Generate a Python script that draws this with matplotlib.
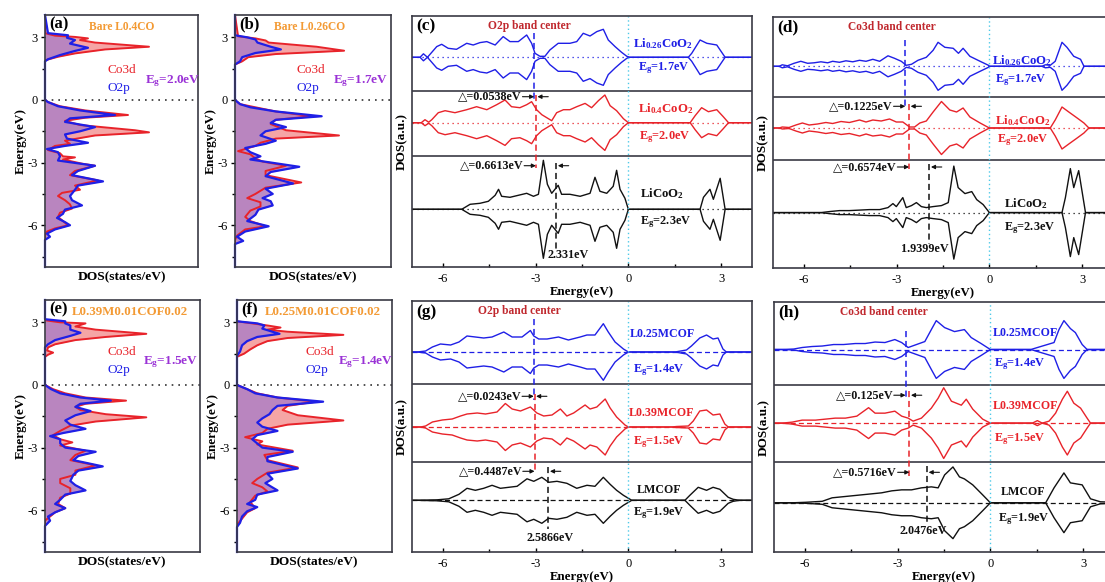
import numpy as np
import matplotlib
matplotlib.use("Agg")
import matplotlib.pyplot as plt
from matplotlib.ticker import MultipleLocator, NullLocator

plt.rcParams["font.family"] = ["Liberation Serif", "DejaVu Sans"]
plt.rcParams["mathtext.default"] = "regular"
plt.rcParams["axes.unicode_minus"] = False

BLUE = "#1f1fe6"
RED = "#e8232a"
BLACK = "#111111"
ORANGE = "#f39a34"
PURPLE = "#9a32d6"
DARKRED = "#c0282e"
CYAN = "#4cc9e8"
PINK = "#f5a5a5"
MAUVE = "#b483c2"
FRAME = "#3a3a44"

# ---- PDOS panels (a, b, e, f): (energy eV, DOS) ----
a_co3d = [(4.07, 0), (3.2, 0), (3.08, 1.0), (3.02, 3.0), (2.95, 4.3), (2.87, 3.5), (2.75, 5.0),
          (2.55, 10.4), (2.42, 6.0), (2.23, 3.0), (2.07, 1.3), (1.9, 0), (0.0, 0), (-0.1, 0.3),
          (-0.3, 1.5), (-0.5, 4.0), (-0.72, 8.3), (-0.85, 4.0), (-1.0, 2.0), (-1.2, 3.5),
          (-1.45, 9.0), (-1.55, 10.4), (-1.7, 5.0), (-1.95, 2.0), (-2.1, 2.5), (-2.2, 1.0),
          (-2.4, 0.3), (-2.55, 1.5), (-2.7, 1.8), (-2.75, 3.0), (-2.85, 1.8), (-3.05, 3.7),
          (-3.15, 5.0), (-3.4, 3.0), (-3.6, 2.5), (-3.85, 5.3), (-4.1, 3.0), (-4.3, 3.5),
          (-4.45, 1.7), (-4.6, 1.3), (-4.8, 2.0), (-5.0, 2.5), (-5.2, 2.7), (-5.4, 1.5),
          (-5.6, 1.3), (-5.8, 1.8), (-6.0, 2.3), (-6.15, 1.0), (-6.3, 0.2), (-6.5, 0), (-8.0, 0)]
a_o2p = [(4.07, 0), (3.2, 0.3), (3.1, 2.3), (2.98, 2.2), (2.87, 3.0), (2.7, 2.5), (2.5, 4.3),
         (2.35, 3.0), (2.15, 1.5), (1.95, 0.3), (1.85, 0), (0.0, 0), (-0.1, 0.3), (-0.3, 1.3),
         (-0.5, 3.5), (-0.72, 7.0), (-0.88, 2.5), (-1.05, 2.0), (-1.3, 5.0), (-1.5, 3.5),
         (-1.65, 2.0), (-1.85, 2.2), (-2.05, 4.3), (-2.2, 2.0), (-2.35, 0.2), (-2.5, 1.3),
         (-2.7, 1.5), (-2.9, 1.3), (-3.15, 5.0), (-3.4, 3.3), (-3.6, 2.7), (-3.9, 5.8),
         (-4.1, 3.3), (-4.3, 3.0), (-4.6, 2.5), (-4.8, 2.7), (-5.05, 3.7), (-5.25, 2.0),
         (-5.45, 1.8), (-5.65, 1.2), (-5.85, 2.0), (-6.0, 2.5), (-6.2, 1.0), (-6.4, 0.2),
         (-6.55, 0.5), (-6.7, 0), (-8.0, 0)]
b_co3d = [(4.07, 0), (3.05, 0.3), (2.95, 2.0), (2.85, 3.0), (2.75, 3.3), (2.55, 8.0), (2.36, 10.7),
          (2.2, 4.0), (2.05, 1.3), (1.85, 0.7), (1.7, 0), (0.0, 0), (-0.2, 0.5), (-0.35, 2.0),
          (-0.55, 4.0), (-0.78, 7.5), (-0.95, 4.0), (-1.15, 3.5), (-1.45, 5.0), (-1.7, 10.2),
          (-1.85, 4.0), (-2.05, 2.5), (-2.2, 2.0), (-2.45, 0.3), (-2.6, 1.5), (-2.8, 2.0),
          (-2.95, 2.7), (-3.15, 5.0), (-3.4, 3.0), (-3.6, 3.0), (-3.95, 6.5), (-4.2, 3.0),
          (-4.5, 2.0), (-4.7, 1.2), (-4.9, 2.5), (-5.1, 2.5), (-5.3, 1.5), (-5.6, 1.0),
          (-5.8, 1.5), (-6.05, 3.0), (-6.2, 1.0), (-6.5, 0.2), (-6.7, 0), (-8.0, 0)]
b_o2p = [(4.07, 0), (3.1, 0), (3.0, 1.2), (2.9, 2.0), (2.75, 2.2), (2.55, 3.5), (2.42, 4.5),
         (2.25, 2.0), (2.05, 0.7), (1.85, 0.5), (1.7, 0), (0.0, 0), (-0.2, 0.5), (-0.35, 1.5),
         (-0.55, 4.0), (-0.78, 8.5), (-0.95, 4.0), (-1.1, 3.5), (-1.3, 5.0), (-1.5, 3.0),
         (-1.7, 2.5), (-1.95, 4.0), (-2.1, 3.0), (-2.3, 1.0), (-2.5, 1.5), (-2.7, 2.5),
         (-2.85, 1.5), (-3.2, 6.3), (-3.45, 3.5), (-3.65, 3.0), (-4.0, 5.7), (-4.25, 3.0),
         (-4.5, 3.7), (-4.7, 2.7), (-4.85, 3.5), (-5.05, 3.7), (-5.25, 2.3), (-5.5, 2.0),
         (-5.8, 1.2), (-6.05, 3.3), (-6.3, 1.0), (-6.55, 0.2), (-6.75, 0.8), (-6.9, 0), (-8.0, 0)]
e_co3d = [(4.07, 0), (3.1, 0), (3.0, 1.5), (2.95, 4.0), (2.8, 3.0), (2.65, 5.0), (2.45, 10.0),
          (2.3, 6.0), (2.15, 3.0), (1.95, 1.0), (1.8, 0.3), (1.65, 0.2), (1.55, 0.8), (1.45, 0.3),
          (1.35, 0), (0.0, 0), (-0.2, 0.8), (-0.4, 2.0), (-0.6, 4.0), (-0.75, 8.0), (-0.9, 4.0),
          (-1.05, 3.0), (-1.2, 3.5), (-1.4, 6.0), (-1.55, 10.0), (-1.75, 5.0), (-1.95, 2.5),
          (-2.2, 1.5), (-2.4, 0.8), (-2.6, 1.5), (-2.75, 2.7), (-2.9, 1.5), (-3.15, 4.0),
          (-3.35, 3.0), (-3.6, 2.5), (-3.85, 5.0), (-4.1, 3.0), (-4.3, 3.0), (-4.5, 1.5),
          (-4.7, 1.5), (-4.95, 2.5), (-5.2, 2.5), (-5.4, 1.5), (-5.7, 1.3), (-5.9, 2.0),
          (-6.1, 1.0), (-6.3, 0.5), (-6.5, 0), (-8.0, 0)]
e_o2p = [(4.07, 0), (3.15, 0), (3.05, 2.0), (2.95, 2.0), (2.85, 2.5), (2.65, 2.5), (2.5, 3.5),
         (2.35, 2.5), (2.15, 1.0), (1.95, 0.3), (1.8, 0), (0.0, 0), (-0.2, 0.6), (-0.4, 1.5),
         (-0.6, 3.5), (-0.75, 6.5), (-0.9, 3.5), (-1.05, 3.0), (-1.25, 4.5), (-1.45, 3.0),
         (-1.7, 2.0), (-1.9, 2.5), (-2.1, 4.0), (-2.3, 1.8), (-2.45, 0.5), (-2.6, 1.5),
         (-2.8, 1.5), (-3.0, 2.0), (-3.2, 5.0), (-3.4, 3.3), (-3.6, 2.8), (-3.9, 5.7),
         (-4.1, 3.3), (-4.3, 2.8), (-4.6, 2.5), (-4.8, 3.0), (-5.05, 4.0), (-5.25, 2.0),
         (-5.5, 1.5), (-5.7, 1.0), (-5.9, 2.0), (-6.1, 1.0), (-6.3, 0.3), (-6.5, 0.5),
         (-6.75, 0), (-8.0, 0)]
f_co3d = [(4.07, 0), (3.05, 0), (2.95, 1.5), (2.85, 3.0), (2.75, 4.3), (2.65, 3.0), (2.55, 5.0),
          (2.4, 10.5), (2.25, 5.0), (2.1, 3.0), (1.9, 2.0), (1.7, 1.3), (1.5, 0.7), (1.35, 0),
          (0.0, 0), (-0.2, 1.0), (-0.4, 2.0), (-0.6, 4.0), (-0.8, 7.8), (-1.0, 5.0), (-1.2, 4.5),
          (-1.45, 6.0), (-1.7, 10.5), (-1.9, 5.0), (-2.1, 3.0), (-2.3, 2.5), (-2.5, 0.8),
          (-2.7, 2.5), (-2.85, 2.0), (-3.15, 5.5), (-3.35, 2.7), (-3.6, 3.0), (-3.95, 6.0),
          (-4.2, 3.0), (-4.5, 2.0), (-4.7, 1.5), (-4.9, 2.5), (-5.1, 3.0), (-5.3, 1.8),
          (-5.6, 1.3), (-5.9, 1.8), (-6.1, 1.0), (-6.4, 0.5), (-6.7, 0), (-8.0, 0)]
f_o2p = [(4.07, 0), (3.05, 0), (2.95, 2.0), (2.85, 2.7), (2.7, 2.5), (2.55, 3.5), (2.45, 4.2),
         (2.3, 2.0), (2.1, 1.0), (1.9, 0.5), (1.6, 0.3), (1.4, 0), (0.0, 0), (-0.2, 1.0),
         (-0.4, 1.8), (-0.6, 4.0), (-0.8, 8.5), (-1.0, 4.0), (-1.2, 3.5), (-1.4, 3.2),
         (-1.6, 2.5), (-1.8, 2.0), (-2.0, 2.5), (-2.2, 4.0), (-2.4, 2.0), (-2.6, 1.5),
         (-2.8, 2.0), (-3.0, 2.5), (-3.2, 5.5), (-3.45, 3.0), (-3.65, 3.0), (-4.0, 6.0),
         (-4.25, 3.0), (-4.5, 3.5), (-4.7, 2.8), (-4.85, 3.3), (-5.05, 4.0), (-5.25, 2.0),
         (-5.5, 1.8), (-5.7, 1.0), (-5.85, 2.0), (-6.05, 1.0), (-6.3, 0.5), (-6.6, 0.3),
         (-6.8, 0), (-8.0, 0)]

# ---- stacked spin DOS panels (c, d, g, h): (energy eV, DOS a.u.) ----
c_li026 = [(-6.74, 0), (-6.63, 0.35), (-6.5, 0), (-6.36, 0.5), (-6.2, 1.07), (-6.04, 1.3),
           (-5.83, 0.9), (-5.56, 0.8), (-5.23, 1.4), (-5.02, 1.23), (-4.8, 1.47), (-4.58, 1.57),
           (-4.31, 1.23), (-4.05, 2.07), (-3.83, 1.57), (-3.56, 1.57), (-3.29, 2.23), (-3.13, 1.4),
           (-3.02, 0.4), (-2.86, 0.1), (-2.7, 0.1), (-2.54, 0.73), (-2.27, 1.4), (-1.89, 1.4),
           (-1.67, 1.57), (-1.46, 2.4), (-1.24, 2.13), (-1.02, 2.57), (-0.81, 2.8), (-0.65, 1.73),
           (-0.43, 1.07), (-0.22, 0.5), (-0.05, 0.1), (0.05, 0), (1.94, 0), (2.05, 0.4),
           (2.32, 1.73), (2.54, 1.4), (2.86, 1.23), (3.02, 0.5), (3.13, 0)]
c_li04 = [(-6.7, 0), (-6.58, 0.3), (-6.46, 0.05), (-6.36, 0.3), (-6.15, 1.0), (-5.93, 1.2),
          (-5.61, 1.0), (-5.23, 1.3), (-4.91, 1.6), (-4.58, 1.3), (-4.26, 1.8), (-3.99, 2.27),
          (-3.78, 1.6), (-3.51, 1.5), (-3.29, 1.8), (-3.13, 2.1), (-2.97, 1.3), (-2.8, 0.8),
          (-2.64, 0.5), (-2.48, 0.2), (-2.32, 1.0), (-2.1, 1.3), (-1.89, 1.3), (-1.67, 1.6),
          (-1.4, 1.93), (-1.19, 1.5), (-0.97, 2.2), (-0.76, 2.77), (-0.59, 1.7), (-0.38, 1.2),
          (-0.16, 0.4), (0.0, 0), (2.0, 0), (2.16, 0.7), (2.37, 1.5), (2.59, 1.1), (2.86, 1.3),
          (3.07, 0.6), (3.24, 0)]
c_lico = [(-5.39, 0), (-5.12, 0.5), (-4.8, 0.6), (-4.53, 0.8), (-4.31, 1.4), (-4.2, 2.0),
          (-4.1, 1.3), (-3.83, 1.2), (-3.56, 1.4), (-3.29, 1.6), (-3.07, 1.3), (-2.91, 1.5),
          (-2.75, 4.9), (-2.62, 2.5), (-2.48, 1.6), (-2.27, 2.4), (-2.16, 1.5), (-1.89, 1.5),
          (-1.56, 1.3), (-1.24, 1.6), (-1.08, 3.2), (-0.92, 1.8), (-0.7, 1.6), (-0.49, 2.3),
          (-0.38, 3.9), (-0.27, 2.0), (-0.11, 1.1), (0.0, 0), (2.32, 0), (2.43, 1.2),
          (2.64, 2.0), (2.75, 1.0), (2.97, 3.1), (3.13, 0)]
d_li026 = [(-6.8, 0), (-6.7, 0.15), (-6.53, 0.05), (-6.32, 0.3), (-6.1, 0.5), (-5.88, 0.3),
           (-5.67, 0.35), (-5.45, 0.45), (-5.23, 0.35), (-5.07, 0.5), (-4.85, 0.4), (-4.64, 0.55),
           (-4.42, 0.45), (-4.2, 0.6), (-3.99, 0.5), (-3.77, 0.7), (-3.55, 0.5), (-3.28, 1.05),
           (-3.07, 0.8), (-2.85, 0.5), (-2.69, 0.1), (-2.52, 0.2), (-2.31, 0.6), (-2.04, 0.9),
           (-1.82, 1.6), (-1.66, 2.4), (-1.44, 1.9), (-1.17, 1.8), (-1.0, 1.3), (-0.85, 1.8),
           (-0.63, 1.0), (-0.3, 0.5), (-0.03, 0.1), (0.0, 0), (1.7, 0), (1.81, 0.15),
           (1.97, 0.1), (2.13, 0.5), (2.35, 2.4), (2.51, 1.9), (2.73, 1.0), (2.95, 0.7), (3.06, 0)]
d_li04 = [(-6.8, 0), (-6.7, 0.1), (-6.48, 0.05), (-6.26, 0.3), (-6.05, 0.5), (-5.83, 0.3),
          (-5.56, 0.4), (-5.29, 0.55), (-5.07, 0.45), (-4.8, 0.65), (-4.53, 0.55), (-4.2, 0.8),
          (-3.99, 0.6), (-3.77, 0.8), (-3.5, 0.7), (-3.23, 0.9), (-3.01, 0.6), (-2.8, 0.6),
          (-2.58, 0.1), (-2.42, 0.1), (-2.25, 0.5), (-2.04, 0.7), (-1.82, 1.6), (-1.55, 2.65),
          (-1.28, 1.8), (-1.06, 1.6), (-0.85, 2.0), (-0.63, 1.1), (-0.3, 0.5), (0.0, 0),
          (1.97, 0), (2.13, 0.8), (2.35, 2.1), (2.57, 1.6), (2.84, 1.0), (3.06, 0.5), (3.22, 0)]
d_lico = [(-5.45, 0), (-5.18, 0.1), (-4.85, 0.2), (-4.53, 0.2), (-4.2, 0.25), (-3.88, 0.3),
          (-3.55, 0.3), (-3.28, 0.5), (-3.12, 0.9), (-3.01, 0.6), (-2.8, 1.5), (-2.69, 0.5),
          (-2.52, 0.7), (-2.36, 1.0), (-2.2, 0.6), (-2.04, 0.5), (-1.82, 0.6), (-1.55, 0.7),
          (-1.33, 1.0), (-1.15, 4.65), (-1.01, 2.5), (-0.79, 1.9), (-0.57, 2.1), (-0.41, 1.3),
          (-0.2, 0.8), (0.0, 0), (2.35, 0), (2.46, 1.5), (2.62, 4.4), (2.73, 2.5), (2.89, 4.2),
          (3.11, 0)]
g_l025 = [(-6.83, 0), (-6.56, 0.1), (-6.34, 0.5), (-6.08, 0.8), (-5.75, 0.7), (-5.48, 1.0),
          (-5.22, 1.6), (-4.95, 1.5), (-4.68, 1.4), (-4.41, 1.5), (-4.03, 2.0), (-3.76, 1.5),
          (-3.44, 1.5), (-3.17, 2.15), (-3.06, 1.6), (-2.9, 1.3), (-2.63, 1.3), (-2.26, 1.5),
          (-1.94, 1.2), (-1.56, 1.5), (-1.34, 1.7), (-1.08, 1.7), (-0.81, 2.83), (-0.65, 2.0),
          (-0.43, 1.0), (-0.16, 0.3), (0.0, 0), (1.51, 0), (1.88, 0.2), (2.04, 0.6), (2.31, 1.4),
          (2.53, 1.7), (2.74, 1.3), (2.9, 1.4), (3.06, 0.3), (3.17, 0)]
g_l039 = [(-6.72, 0), (-6.56, 0.1), (-6.34, 0.5), (-6.02, 0.7), (-5.7, 0.8), (-5.43, 1.1),
          (-5.22, 1.3), (-4.89, 1.4), (-4.62, 1.3), (-4.25, 1.5), (-3.98, 2.35), (-3.76, 1.8),
          (-3.49, 1.6), (-3.17, 2.0), (-2.96, 1.4), (-2.74, 1.1), (-2.47, 1.2), (-2.2, 1.8),
          (-1.99, 1.1), (-1.77, 1.4), (-1.4, 2.2), (-1.24, 1.8), (-1.02, 2.0), (-0.75, 2.8),
          (-0.59, 1.9), (-0.38, 1.0), (-0.11, 0.2), (0.0, 0), (1.4, 0), (1.56, 0.05),
          (1.94, 0.1), (2.1, 0.6), (2.31, 1.6), (2.53, 1.7), (2.74, 1.2), (2.96, 1.3),
          (3.12, 0.3), (3.23, 0)]
g_lmcof = [(-6.83, 0), (-6.18, 0.05), (-5.81, 0.15), (-5.48, 0.6), (-5.22, 1.2), (-4.95, 1.0),
           (-4.68, 1.2), (-4.41, 1.5), (-4.14, 1.2), (-3.87, 1.3), (-3.6, 1.4), (-3.28, 2.15),
           (-3.06, 1.9), (-2.8, 2.3), (-2.58, 1.8), (-2.31, 1.9), (-1.99, 1.7), (-1.67, 1.2),
           (-1.34, 1.5), (-1.08, 1.4), (-0.81, 2.3), (-0.59, 1.6), (-0.38, 1.0), (-0.16, 0.5),
           (0.11, 0), (1.83, 0), (1.99, 0.5), (2.26, 1.3), (2.53, 1.0), (2.74, 1.3), (2.96, 1.1),
           (3.23, 0.3), (3.39, 0.1), (3.6, 0)]
h_l025 = [(-6.73, 0), (-6.36, 0.05), (-6.09, 0.2), (-5.77, 0.3), (-5.44, 0.35), (-5.07, 0.5),
          (-4.75, 0.5), (-4.37, 0.6), (-4.05, 0.6), (-3.73, 0.75), (-3.41, 0.7), (-3.09, 1.0),
          (-2.87, 0.7), (-2.66, 0.2), (-2.39, 0.5), (-2.12, 0.8), (-1.91, 2.0), (-1.75, 2.9),
          (-1.48, 2.2), (-1.16, 1.8), (-0.84, 2.0), (-0.62, 1.2), (-0.3, 0.6), (0.0, 0),
          (1.31, 0), (1.63, 0.3), (2.06, 0.7), (2.22, 2.0), (2.38, 2.9), (2.59, 2.1),
          (2.75, 1.7), (2.97, 0.5), (3.13, 0)]
h_l039 = [(-6.73, 0), (-6.41, 0.1), (-6.09, 0.3), (-5.66, 0.3), (-5.34, 0.4), (-5.02, 0.5),
          (-4.69, 0.5), (-4.32, 0.7), (-3.94, 1.55), (-3.73, 1.0), (-3.41, 1.0), (-3.09, 1.2),
          (-2.87, 0.7), (-2.66, 0.5), (-2.5, 0.2), (-2.23, 0.5), (-1.91, 1.5), (-1.69, 2.5),
          (-1.51, 3.55), (-1.26, 2.2), (-0.94, 1.8), (-0.78, 2.4), (-0.57, 1.4), (-0.25, 0.4),
          (0.0, 0), (1.36, 0), (1.52, 0.25), (1.68, 0), (1.9, 0.2), (2.11, 1.0), (2.33, 2.4),
          (2.49, 3.2), (2.7, 2.0), (2.92, 1.5), (3.13, 0.5), (3.24, 0)]
h_lmcof = [(-6.41, 0), (-5.98, 0.05), (-5.44, 0.15), (-5.12, 0.5), (-4.8, 0.6), (-4.48, 0.7),
           (-4.16, 0.8), (-3.84, 0.9), (-3.52, 1.0), (-3.19, 1.2), (-2.87, 1.3), (-2.55, 1.3),
           (-2.23, 1.5), (-1.91, 1.6), (-1.69, 1.5), (-1.48, 2.8), (-1.21, 3.6), (-1.0, 2.6),
           (-0.84, 2.4), (-0.57, 1.8), (-0.25, 0.8), (0.0, 0), (1.79, 0), (2.06, 1.5),
           (2.38, 3.0), (2.59, 2.0), (2.97, 1.8), (3.24, 0.4), (3.56, 0.1)]

# band centres (eV) of the three compounds, the shifts between them, and the value written
c_centers = [-3.046, -2.992, -2.331]
c_deltas = ["0.0538", "0.6613"]
c_center_label = "2.331eV"
d_centers = [-2.7198, -2.5973, -1.9399]
d_deltas = ["0.1225", "0.6574"]
d_center_label = "1.9399eV"
g_centers = [-3.0596, -3.0353, -2.5866]
g_deltas = ["0.0243", "0.4487"]
g_center_label = "2.5866eV"
h_centers = [-2.7442, -2.6192, -2.0476]
h_deltas = ["0.125", "0.5716"]
h_center_label = "2.0476eV"

fig = plt.figure(figsize=(11.05, 5.82), dpi=100)
W, H = 1105.0, 582.0


def add_ax(l, t, r, b):
    return fig.add_axes([l / W, 1 - b / H, (r - l) / W, (b - t) / H])


def style_frame(ax):
    for s in ax.spines.values():
        s.set_color(FRAME)
        s.set_linewidth(1.2)


def pdos_panel(ax, co, o2, tag, title, tsize, eg, pos):
    ce, cv = np.array(co).T
    oe, ov = np.array(o2).T
    ax.fill_betweenx(ce, 0, cv, color=PINK, lw=0)
    ax.fill_betweenx(oe, 0, ov, color=MAUVE, lw=0, alpha=0.92)
    ax.axhline(0, color="#333333", ls=(0, (1, 3)), lw=1.2)
    ax.plot(cv, ce, color=RED, lw=1.4)
    ax.plot(ov, oe, color=BLUE, lw=1.6, clip_on=False)
    ax.set_xlim(0, 15.3)
    ax.set_ylim(-8, 4.07)
    ax.yaxis.set_major_locator(MultipleLocator(3))
    ax.yaxis.set_minor_locator(MultipleLocator(1.5))
    ax.xaxis.set_major_locator(NullLocator())
    ax.tick_params(axis="y", which="major", direction="out", length=3, width=1, labelsize=9, pad=2)
    ax.tick_params(axis="y", which="minor", direction="out", length=2, width=1)
    style_frame(ax)
    ax.set_ylabel("Energy(eV)", fontsize=9.5, fontweight="bold", labelpad=1)
    ax.set_xlabel("DOS(states/eV)", fontsize=9.7, fontweight="bold", labelpad=3)
    tx = ax.transAxes
    ax.text(0.03, 0.995, tag, transform=tx, fontsize=12, fontweight="bold", va="top")
    ax.text(pos[0], 0.978, title, transform=tx, fontsize=tsize, fontweight="bold", color=ORANGE, va="top")
    ax.text(pos[1], pos[2], "Co3d", transform=tx, fontsize=9.5, color=RED, va="center")
    ax.text(pos[1], pos[2] - 0.073, "O2p", transform=tx, fontsize=9.5, color=BLUE, va="center")
    ax.text(pos[3], pos[2] - 0.043, "E$_g$=" + eg, transform=tx, fontsize=9.5,
            fontweight="bold", color=PURPLE, va="center")


def spin_panel(ax, curves, bases, seps, base_ls, centers, deltas, center_label, spans, labels, head, tag):
    colors = [BLUE, RED, BLACK]
    for crv, y0, col in zip(curves, bases, colors):
        e, v = np.array(crv).T
        e = np.concatenate([[-7.5], e, [4.5]])
        v = np.concatenate([[0], v, [0]])
        ax.axhline(y0, color=col, ls=base_ls, lw=0.9)
        ax.plot(e, y0 + v, color=col, lw=1.0)
        ax.plot(e, y0 - v, color=col, lw=1.0)
    for s in seps:
        ax.axhline(s, color=FRAME, lw=1.2)
    ax.axvline(0, color=CYAN, ls=(0, (1, 2)), lw=1.0)
    for xc, (y1, y2), col in zip(centers, spans, colors):
        ax.plot([xc, xc], [y1, y2], color=col, ls=(0, (4, 2.5)), lw=1.1)
    # shifts between neighbouring band centres
    for i in range(2):
        xl, xr = centers[i], centers[i + 1]
        yd = labels["dy"][i]
        ax.text(xl - 0.4, yd, "\u25b3=" + deltas[i] + "eV", ha="right", va="center",
                fontsize=8.7, fontweight="bold", color=BLACK)
        arr = dict(arrowstyle="-|>", color=BLACK, lw=0.8, mutation_scale=6, shrinkA=0, shrinkB=0)
        ax.annotate("", xy=(xl, yd), xytext=(xl - 0.38, yd), arrowprops=arr)
        ax.annotate("", xy=(xr + 0.05, yd), xytext=(xr + 0.4, yd), arrowprops=arr)
    ax.text(labels["cx"], labels["cy"], center_label, ha="center", va="center",
            fontsize=8.7, fontweight="bold", color=BLACK)
    ax.text(head[0], 24.1, head[1], ha="center", va="center", fontsize=8.3,
            fontweight="bold", color=DARKRED)
    for (x, y, s), col in zip(labels["names"], colors):
        ax.text(x, y, s, ha="left", va="center", fontsize=labels["fs"], fontweight="bold", color=col)
    for (x, y, s), col in zip(labels["gaps"], colors):
        ax.text(x, y, "E$_g$=" + s, ha="left", va="center", fontsize=8.8, fontweight="bold", color=col)
    ax.text(0.012, 0.99, tag, transform=ax.transAxes, fontsize=12.5, fontweight="bold", va="top")
    ax.set_xlim(-7, 4)
    ax.set_ylim(0, 25.1)
    ax.xaxis.set_major_locator(MultipleLocator(3))
    ax.xaxis.set_minor_locator(MultipleLocator(1.5))
    ax.yaxis.set_major_locator(NullLocator())
    ax.tick_params(axis="x", which="major", direction="in", length=3, width=1, labelsize=9, pad=4)
    ax.tick_params(axis="x", which="minor", direction="in", length=2, width=1)
    style_frame(ax)
    ax.set_ylabel("DOS(a.u.)", fontsize=9.5, fontweight="bold", labelpad=3)
    ax.set_xlabel("Energy(eV)", fontsize=9.3, fontweight="bold", labelpad=1)


ax_a = add_ax(45, 15, 198, 267)
pdos_panel(ax_a, a_co3d, a_o2p, "(a)", "Bare L0.4CO", 8.3, "2.0eV", (0.29, 0.41, 0.782, 0.655))
ax_b = add_ax(235, 15, 391, 267)
pdos_panel(ax_b, b_co3d, b_o2p, "(b)", "Bare L0.26CO", 8.3, "1.7eV", (0.25, 0.395, 0.782, 0.63))
ax_e = add_ax(45, 300, 200, 552)
pdos_panel(ax_e, e_co3d, e_o2p, "(e)", "L0.39M0.01COF0.02", 9.3, "1.5eV", (0.17, 0.405, 0.795, 0.635))
ax_f = add_ax(237, 300, 392, 552)
pdos_panel(ax_f, f_co3d, f_o2p, "(f)", "L0.25M0.01COF0.02", 9.3, "1.4eV", (0.18, 0.44, 0.795, 0.65))

ax_c = add_ax(412, 16, 752, 267)
spin_panel(ax_c, [c_li026, c_li04, c_lico], [20.97, 14.43, 5.77], [17.63, 11.1], (0, (1, 3)),
           c_centers, c_deltas, c_center_label, [(23.37, 16.7), (17.2, 9.87), (10.37, 1.7)],
           {"dy": [17.03, 10.13], "cx": -1.95, "cy": 1.2, "fs": 9.2,
            "names": [(0.16, 22.37, "Li$_{0.26}$CoO$_2$"), (0.32, 15.83, "Li$_{0.4}$CoO$_2$"),
                      (0.38, 7.37, "LiCoO$_2$")],
            "gaps": [(0.32, 19.87, "1.7eV"), (0.36, 13.03, "2.0eV"), (0.38, 4.5, "2.3eV")]},
           (-3.2, "O2p band center"), "(c)")

ax_d = add_ax(773, 17, 1113, 268)
spin_panel(ax_d, [d_li026, d_li04, d_lico], [20.17, 14.0, 5.54], [17.1, 10.84], (0, (1, 3)),
           d_centers, d_deltas, d_center_label, [(22.77, 15.94), (16.44, 9.94), (10.44, 2.44)],
           {"dy": [16.17, 10.1], "cx": -2.09, "cy": 1.94, "fs": 9.2,
            "names": [(0.08, 20.77, "Li$_{0.26}$CoO$_2$"), (0.18, 14.77, "Li$_{0.4}$CoO$_2$"),
                      (0.46, 6.44, "LiCoO$_2$")],
            "gaps": [(0.18, 18.77, "1.7eV"), (0.24, 12.77, "2.0eV"), (0.46, 3.94, "2.3eV")]},
           (-3.15, "Co3d band center"), "(d)")

ax_g = add_ax(412, 301, 752, 552)
spin_panel(ax_g, [g_l025, g_l039, g_lmcof], [20.0, 12.5, 5.17], [16.84, 9.0], (0, (4, 2.5)),
           g_centers, g_deltas, g_center_label, [(23.34, 15.17), (15.84, 8.17), (8.5, 2.34)],
           {"dy": [15.57, 8.07], "cx": -2.53, "cy": 1.44, "fs": 8.6,
            "names": [(0.05, 21.83, "L0.25MCOF"), (0.0, 13.9, "L0.39MCOF"), (0.27, 6.17, "LMCOF")],
            "gaps": [(0.16, 18.17, "1.4eV"), (0.16, 11.0, "1.5eV"), (0.16, 3.84, "1.9eV")]},
           (-3.53, "O2p band center"), "(g)")

ax_h = add_ax(774, 302, 1114, 552)
spin_panel(ax_h, [h_l025, h_l039, h_lmcof], [20.33, 12.94, 4.94], [16.74, 9.07], (0, (4, 2.5)),
           h_centers, h_deltas, h_center_label, [(22.17, 15.5), (16.17, 7.67), (8.67, 2.84)],
           {"dy": [15.74, 8.0], "cx": -2.18, "cy": 2.1, "fs": 8.6,
            "names": [(0.08, 22.0, "L0.25MCOF"), (0.08, 14.67, "L0.39MCOF"), (0.34, 6.0, "LMCOF")],
            "gaps": [(0.13, 18.84, "1.4eV"), (0.13, 11.34, "1.5eV"), (0.24, 3.34, "1.9eV")]},
           (-3.44, "Co3d band center"), "(h)")

fig.savefig("out.png", dpi=100)
